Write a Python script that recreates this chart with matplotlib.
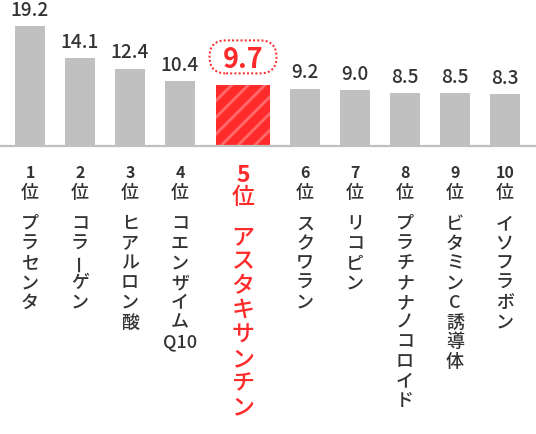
import numpy as np
import matplotlib
matplotlib.use('Agg')
import matplotlib.pyplot as plt
from matplotlib.patches import FancyBboxPatch
from matplotlib.transforms import ScaledTranslation

# data
ranks = [1, 2, 3, 4, 5, 6, 7, 8, 9, 10]
names = [['プ', 'ラ', 'セ', 'ン', 'タ'],
         ['コ', 'ラ', 'ー', 'ゲ', 'ン'],
         ['ヒ', 'ア', 'ル', 'ロ', 'ン', '酸'],
         ['コ', 'エ', 'ン', 'ザ', 'イ', 'ム', 'Q10'],
         ['ア', 'ス', 'タ', 'キ', 'サ', 'ン', 'チ', 'ン'],
         ['ス', 'ク', 'ワ', 'ラ', 'ン'],
         ['リ', 'コ', 'ピ', 'ン'],
         ['プ', 'ラ', 'チ', 'ナ', 'ナ', 'ノ', 'コ', 'ロ', 'イ', 'ド'],
         ['ビ', 'タ', 'ミ', 'ン', 'C', '誘', '導', '体'],
         ['イ', 'ソ', 'フ', 'ラ', 'ボ', 'ン']]
values = [19.2, 14.1, 12.4, 10.4, 9.7, 9.2, 9.0, 8.5, 8.5, 8.3]
highlight = 4

gray = '#c0c0c0'
dark = '#333333'
red = '#ff2b2b'
fam = ['Noto Sans CJK JP', 'DejaVu Sans']

W, H, dpi = 536, 434, 100
base_px = 146        # baseline row from top
ppu = 6.25           # pixels per unit of value
pt = 72 / dpi        # points per pixel

plt.rcParams['hatch.linewidth'] = 2.0

fig = plt.figure(figsize=(W / dpi, H / dpi), dpi=dpi)
ax = fig.add_axes([0, 0, 1, 1])
ax.set_ylim(-(H - base_px) / ppu, base_px / ppu)
ax.set_xlim(-0.6, (W - 30) / 50)
ax.axis('off')

idx = np.arange(len(values))
x = idx + np.where(idx > highlight, 0.5, np.where(idx == highlight, 0.26, 0.0))
widths = np.where(idx == highlight, 1.08, 0.6)
colors = [red if i == highlight else gray for i in idx]

bars = ax.bar(x, values, width=widths, color=colors, lw=0, zorder=2)
bars[highlight].set_hatch('//')
bars[highlight].set_edgecolor('#ff6b6b')
bars[highlight].set_linewidth(0)

ax.axhline(0, color=gray, lw=2.2 * pt, zorder=3)

for i, (xi, v) in enumerate(zip(x, values)):
    if i == highlight:
        trans = fig.dpi_scale_trans + ScaledTranslation(xi, v, ax.transData)
        pill = FancyBboxPatch((-0.335, 0.285 - 0.165), 0.67, 0.33,
                              boxstyle='round,pad=0,rounding_size=0.165',
                              transform=trans, fc='white', ec=red, lw=2 * pt,
                              ls=(0, (1, 1.1)), zorder=4)
        ax.add_patch(pill)
        ax.annotate(f'{v:.1f}', (xi, v), xytext=(0, 17 * pt), textcoords='offset points',
                    ha='center', va='baseline', fontsize=27 * pt, color=red,
                    fontweight='bold', family=fam, zorder=5)
    else:
        ax.annotate(f'{v:.1f}', (xi, v), xytext=(0, 10 * pt), textcoords='offset points',
                    ha='center', va='baseline', fontsize=19 * pt, color=dark,
                    fontweight='medium', family=fam)

# rank and name labels, written top to bottom
for i, (xi, r, chars) in enumerate(zip(x, ranks, names)):
    if i == highlight:
        c, fnum, fpos, fchr, y_num, y_pos, y0, pitch = red, 23, 23, 23, 175, 197.5, 237.5, 24.4
    else:
        c, fnum, fpos, fchr, y_num, y_pos, y0, pitch = dark, 16, 18, 18, 172.5, 193, 224, 19.7
    ax.annotate(str(r), (xi, 0), xytext=(0, -(y_num - base_px) * pt), textcoords='offset points',
                ha='center', va='center', fontsize=fnum * pt, color=c, fontweight='bold', family=fam)
    ax.annotate('位', (xi, 0), xytext=(0, -(y_pos - base_px) * pt), textcoords='offset points',
                ha='center', va='center', fontsize=fpos * pt, color=c, fontweight='medium', family=fam)
    for k, ch in enumerate(chars):
        yc = y0 + k * pitch
        rot = 90 if ch == 'ー' else 0
        ax.annotate(ch, (xi, 0), xytext=(0, -(yc - base_px) * pt), textcoords='offset points',
                    ha='center', va='center', fontsize=fchr * pt, color=c, rotation=rot,
                    rotation_mode='anchor', fontweight='medium', family=fam)

fig.savefig('out.png', dpi=dpi)
